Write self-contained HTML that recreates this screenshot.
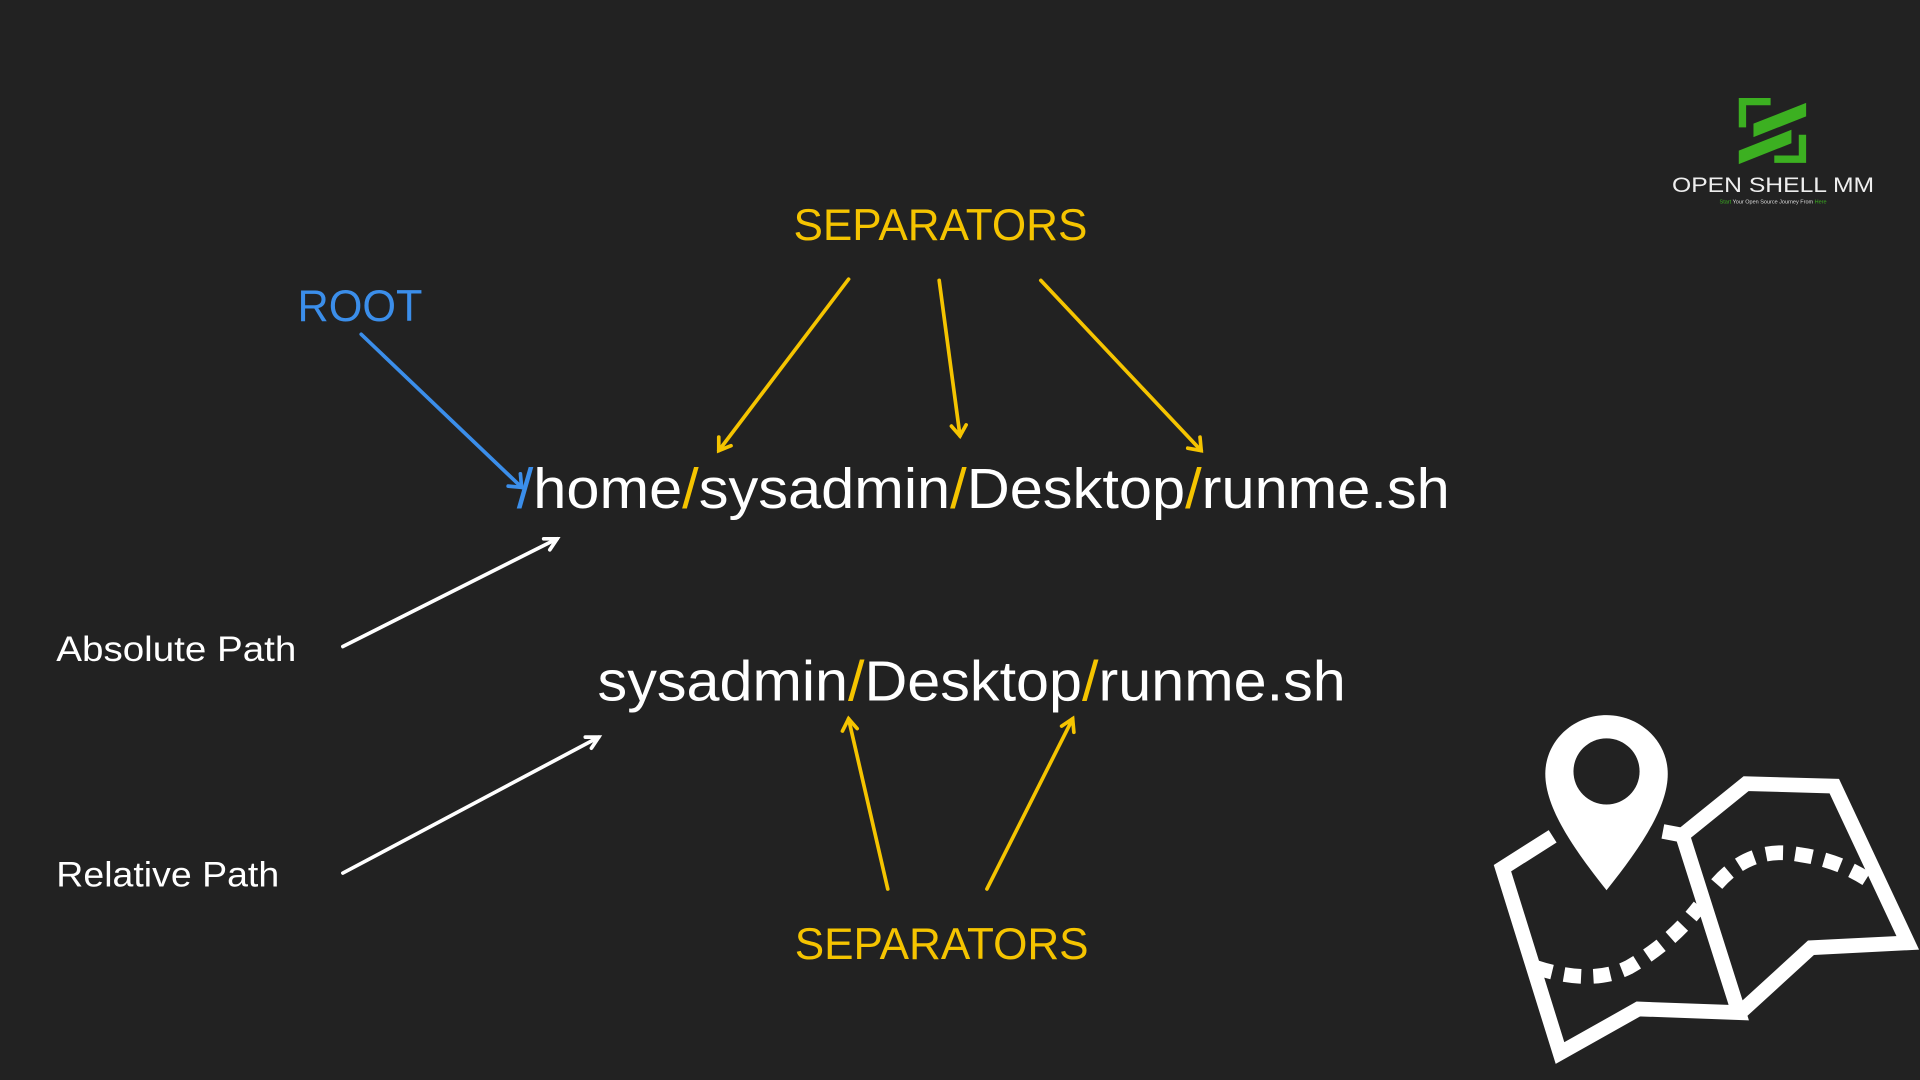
<!DOCTYPE html>
<html><head><meta charset="utf-8"><style>
html,body{margin:0;padding:0;background:#222222;width:1920px;height:1080px;overflow:hidden}
svg{display:block}
text{font-family:"Liberation Sans",sans-serif}
</style></head><body>
<svg width="1920" height="1080" viewBox="0 0 1568 882" xmlns="http://www.w3.org/2000/svg">
<defs>
<marker id="ay" viewBox="0 0 10 10" refX="9" refY="5" markerWidth="5" markerHeight="5" orient="auto" markerUnits="userSpaceOnUse"><path d="M1,1 L9,5 L1,9" fill="none" stroke="#f5c400" stroke-width="2"/></marker>
</defs>
<rect width="1568" height="882" fill="#222222"/>
<!-- logo -->
<g fill="#3cb021">
<polygon points="1420,80 1446,80 1446,86 1426,86 1426,104 1420,104"/>
<polygon points="1432,101 1475,84 1475,95 1432,112"/>
<polygon points="1420,123 1463,106 1463,117 1420,134"/>
<polygon points="1469,110 1475,110 1475,133 1449,133 1449,127 1469,127"/>
</g>
<text x="1448" y="157" font-size="17" fill="#eeeeee" text-anchor="middle" textLength="165" lengthAdjust="spacingAndGlyphs">OPEN SHELL MM</text>
<text x="1448" y="166" font-size="4.5" fill="#dddddd" text-anchor="middle"><tspan fill="#3cb021">Start</tspan> Your Open Source Journey From <tspan fill="#3cb021">Here</tspan></text>

<!-- labels -->
<text x="648" y="196" font-size="36" fill="#f5c400" textLength="240" lengthAdjust="spacingAndGlyphs">SEPARATORS</text>
<text x="649" y="783" font-size="36" fill="#f5c400" textLength="240" lengthAdjust="spacingAndGlyphs">SEPARATORS</text>
<text x="243" y="262" font-size="36" fill="#3b8eea" textLength="102" lengthAdjust="spacingAndGlyphs">ROOT</text>
<text x="46" y="540" font-size="29" fill="#ffffff" textLength="196" lengthAdjust="spacingAndGlyphs">Absolute Path</text>
<text x="46" y="724" font-size="29" fill="#ffffff" textLength="182" lengthAdjust="spacingAndGlyphs">Relative Path</text>
<text x="422" y="415" font-size="46" fill="#ffffff" textLength="762" lengthAdjust="spacingAndGlyphs"><tspan fill="#3b8eea">/</tspan>home<tspan fill="#f5c400">/</tspan>sysadmin<tspan fill="#f5c400">/</tspan>Desktop<tspan fill="#f5c400">/</tspan>runme.sh</text>
<text x="488" y="572" font-size="46" fill="#ffffff" textLength="611" lengthAdjust="spacingAndGlyphs">sysadmin<tspan fill="#f5c400">/</tspan>Desktop<tspan fill="#f5c400">/</tspan>runme.sh</text>

<!-- arrows -->
<g fill="none" stroke-width="3" stroke-linecap="round">
<g stroke="#3b8eea"><line x1="295" y1="273" x2="426" y2="398"/><polyline points="415,397 426,398 425,387"/></g>
<g stroke="#f5c400">
<line x1="693" y1="228" x2="587" y2="368"/><polyline points="587,357 587,368 597,364"/>
<line x1="767" y1="229" x2="784" y2="356"/><polyline points="777,348 784,356 789,347"/>
<line x1="850" y1="229" x2="981" y2="368"/><polyline points="980,357 981,368 970,366"/>
<line x1="725" y1="726" x2="693" y2="587"/><polyline points="688,597 693,587 700,595"/>
<line x1="806" y1="726" x2="876" y2="587"/><polyline points="867,593 876,587 877,598"/>
</g>
<g stroke="#ffffff">
<line x1="280" y1="528" x2="455" y2="440"/><polyline points="444,440 455,440 449,449"/>
<line x1="280" y1="713" x2="489" y2="602"/><polyline points="478,602 489,602 483,611"/>
</g>
</g>

<!-- map icon -->
<g fill="none" stroke="#ffffff" stroke-width="12" stroke-linejoin="miter">
<polyline points="1268,683 1227,709 1274,860 1338,824 1420,827 1374,682 1358,679"/>
<polyline points="1374,682 1426,640 1498,642 1558,770 1479,774 1421,827"/>
<path d="M1254,790 Q1300,805 1330,790 Q1365,770 1388,740" stroke-dasharray="14,10"/>
<path d="M1402,722 Q1430,690 1470,698 Q1505,703 1532,723" stroke-dasharray="14,10"/>
</g>
<path d="M1312,584 C1285,584 1262,605 1262,632 C1262,660 1285,693 1312,727 C1339,693 1362,660 1362,632 C1362,605 1339,584 1312,584 Z" fill="#ffffff"/>
<circle cx="1312" cy="630" r="27" fill="#222222"/>
</svg>
</body></html>
